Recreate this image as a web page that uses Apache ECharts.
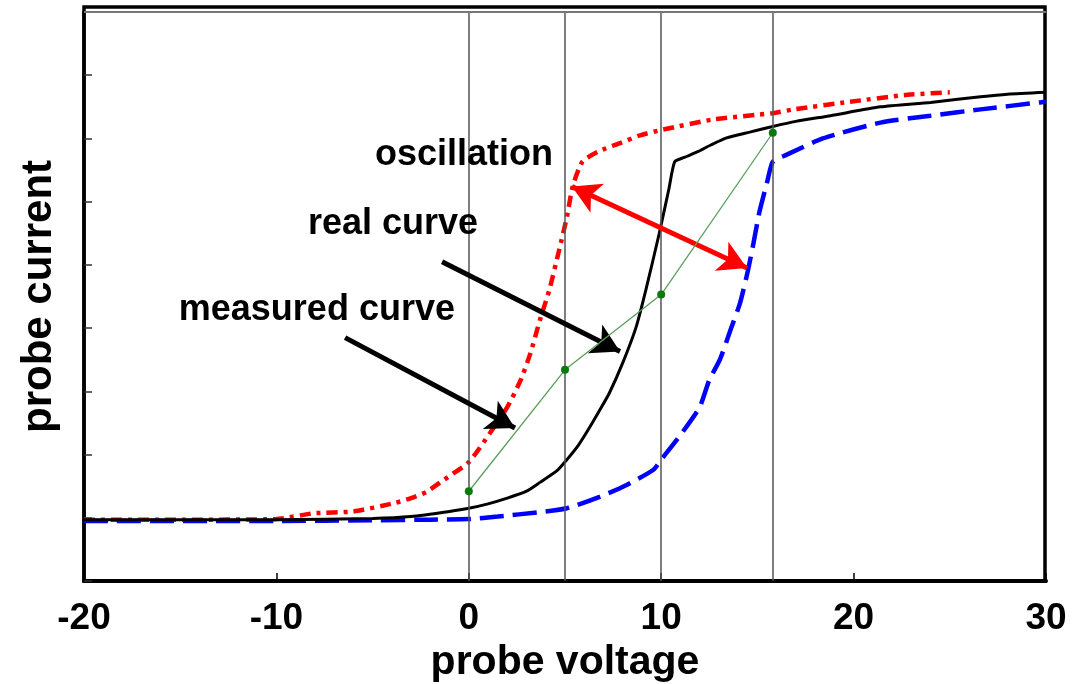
<!DOCTYPE html>
<html>
<head>
<meta charset="utf-8">
<script src="https://cdn.jsdelivr.net/npm/echarts@6/dist/echarts.min.js"></script>
<style>
html,body{margin:0;padding:0;background:#fff;}
#chart{width:1073px;height:684px;}
</style>
</head>
<body>
<div id="chart"></div>
<script>
// ---- data ----
var xTicks = { min: -20, max: 30, interval: 10 };
var yRange = { min: 0, max: 9, interval: 1 };

var realX = [-20,-15,-10,-5,-3,-1,0,1,2,3,3.7,4.6,5.1,5.7,6.3,6.8,7.3,8.0,8.7,9.2,9.9,10.4,10.7,11.2,11.9,12.6,13.4,14.6,15.8,17,18.8,21.4,24,26.6,28,30];
var realY = [0.97,0.97,0.97,0.99,1.02,1.10,1.15,1.22,1.31,1.42,1.56,1.75,1.92,2.15,2.44,2.70,2.97,3.45,4.02,4.6,5.5,6.2,6.63,6.70,6.79,6.90,7.01,7.10,7.19,7.27,7.36,7.50,7.57,7.66,7.70,7.73];

var oscX = [-20,-15,-10,-8.1,-6,-3.9,-3,-2.2,-1.3,0,1.1,2.0,2.7,3.2,3.7,4.2,4.7,5.1,5.4,5.9,6.7,7.9,8.9,10.1,12.7,15.8,16.9,19.8,22.8,25];
var oscY = [0.97,0.97,0.98,1.07,1.10,1.23,1.31,1.41,1.60,1.88,2.34,2.75,3.18,3.60,4.13,4.62,5.24,5.76,6.24,6.63,6.79,6.93,7.05,7.14,7.30,7.40,7.46,7.58,7.69,7.73];

var measX = [-20,-10,-5,-2,0,1.5,3.7,5.1,6.8,8.2,9.6,10.0,11.0,12.0,12.5,13.05,13.6,14.1,14.5,14.8,15.1,15.5,15.8,16.5,18.4,21.4,24,26.6,29.7,30];
var measY = [0.95,0.95,0.96,0.97,0.98,1.02,1.09,1.15,1.33,1.52,1.76,1.92,2.31,2.75,3.18,3.50,3.97,4.40,4.90,5.35,5.83,6.30,6.63,6.74,7.00,7.25,7.36,7.46,7.57,7.58];

var sampleX = [0,5,10,15.8];
var sampleY = [1.42,3.34,4.53,7.09];

var markerX = [0,5,10,15.8];
var topLineY = 9;

var labelTexts = ['oscillation','real curve','measured curve'];
var labelX = [4.38, 0.48, -0.72];
var labelY = [6.74, 5.64, 4.29];

var blackArrows = [
  [[-1.39,5.05],[7.86,3.63]],
  [[-6.43,3.85],[2.40,2.42]]
];
var redArrow = [[5.36,6.24],[14.46,4.95]];

function pairs(xs, ys){ return xs.map(function(x,i){ return [x, ys[i]]; }); }

var FONT = '"Liberation Sans", Arial, sans-serif';

var chart = echarts.init(document.getElementById('chart'), null, {renderer:'canvas'});
chart.setOption({
  animation: false,
  backgroundColor: '#fff',
  grid: { left: 84, right: 27, top: 12, bottom: 103, containLabel: false, outerBoundsMode: 'none' },
  graphic: [{
    type: 'rect', z: 0,
    shape: { x: 84, y: 7, width: 961, height: 574 },
    style: { fill: 'none', stroke: '#000', lineWidth: 3.5 }
  }],
  xAxis: {
    type: 'value', min: xTicks.min, max: xTicks.max, interval: xTicks.interval,
    axisLine: { onZero: false, lineStyle: { color: '#000', width: 4 } },
    axisTick: { inside: true, length: 8, lineStyle: { color: '#000', width: 1.5 } },
    axisLabel: { color: '#000', fontSize: 37, fontWeight: 'bold', fontFamily: FONT, margin: 19 },
    splitLine: { show: false },
    name: 'probe voltage', nameLocation: 'middle', nameGap: 58,
    nameTextStyle: { color: '#000', fontSize: 41, fontWeight: 'bold', fontFamily: FONT }
  },
  yAxis: {
    type: 'value', min: yRange.min, max: yRange.max, interval: yRange.interval,
    axisLine: { onZero: false, lineStyle: { color: '#000', width: 3.5 } },
    axisTick: { inside: true, length: 8, lineStyle: { color: '#333', width: 1.5 } },
    axisLabel: { show: false },
    splitLine: { show: false },
    name: 'probe current', nameLocation: 'middle', nameGap: 24,
    nameTextStyle: { color: '#000', fontSize: 42, fontWeight: 'bold', fontFamily: FONT }
  },
  series: [
    {
      type: 'line', data: [], silent: true, z: 1,
      markLine: {
        silent: true, symbol: 'none', label: { show: false },
        lineStyle: { color: '#555', width: 1.5, type: 'solid' },
        data: markerX.map(function(x){ return { xAxis: x }; }).concat([{ yAxis: topLineY, lineStyle: { color: '#777', width: 2 } }])
      }
    },
    {
      name: 'oscillation', type: 'line', data: pairs(oscX, oscY), showSymbol: false, z: 3, smooth: 0.2,
      lineStyle: { color: '#ff0000', width: 4.5, type: [11, 6, 4, 6] }
    },
    {
      name: 'measured', type: 'line', data: pairs(measX, measY), showSymbol: false, z: 3, smooth: 0.2,
      lineStyle: { color: '#0000ff', width: 4.5, type: [24, 9] }
    },
    {
      name: 'real', type: 'line', data: pairs(realX, realY), showSymbol: false, z: 4, smooth: 0.2,
      lineStyle: { color: '#000', width: 3 }
    },
    {
      name: 'sampled', type: 'line', data: pairs(sampleX, sampleY), z: 5,
      symbol: 'circle', symbolSize: 8, showSymbol: true,
      itemStyle: { color: '#0a7a0a' },
      lineStyle: { color: '#5a9e5a', width: 1.3 }
    },
    {
      type: 'line', data: [], silent: true, z: 6,
      markLine: {
        silent: true, label: { show: false },
        symbol: ['none', 'arrow'], symbolSize: [24, 28],
        lineStyle: { color: '#000', width: 5, type: 'solid' },
        data: blackArrows.map(function(a){ return [{ coord: a[0] }, { coord: a[1] }]; })
      }
    },
    {
      type: 'line', data: [], silent: true, z: 6,
      markLine: {
        silent: true, label: { show: false },
        symbol: ['arrow', 'arrow'], symbolSize: [24, 28],
        lineStyle: { color: '#ff0000', width: 5, type: 'solid' },
        itemStyle: { color: '#ff0000' },
        data: [[{ coord: redArrow[0] }, { coord: redArrow[1] }]]
      }
    },
    {
      type: 'scatter', symbolSize: 0, silent: true, z: 7,
      itemStyle: { opacity: 1 },
      data: labelTexts.map(function(t,i){ return { name: t, value: [labelX[i], labelY[i]] }; }),
      label: {
        show: true, formatter: '{b}', position: [0, 0], align: 'right', verticalAlign: 'middle',
        color: '#000', opacity: 1, fontSize: 36, fontWeight: 'bold', fontFamily: FONT
      }
    }
  ]
});
</script>
</body>
</html>
